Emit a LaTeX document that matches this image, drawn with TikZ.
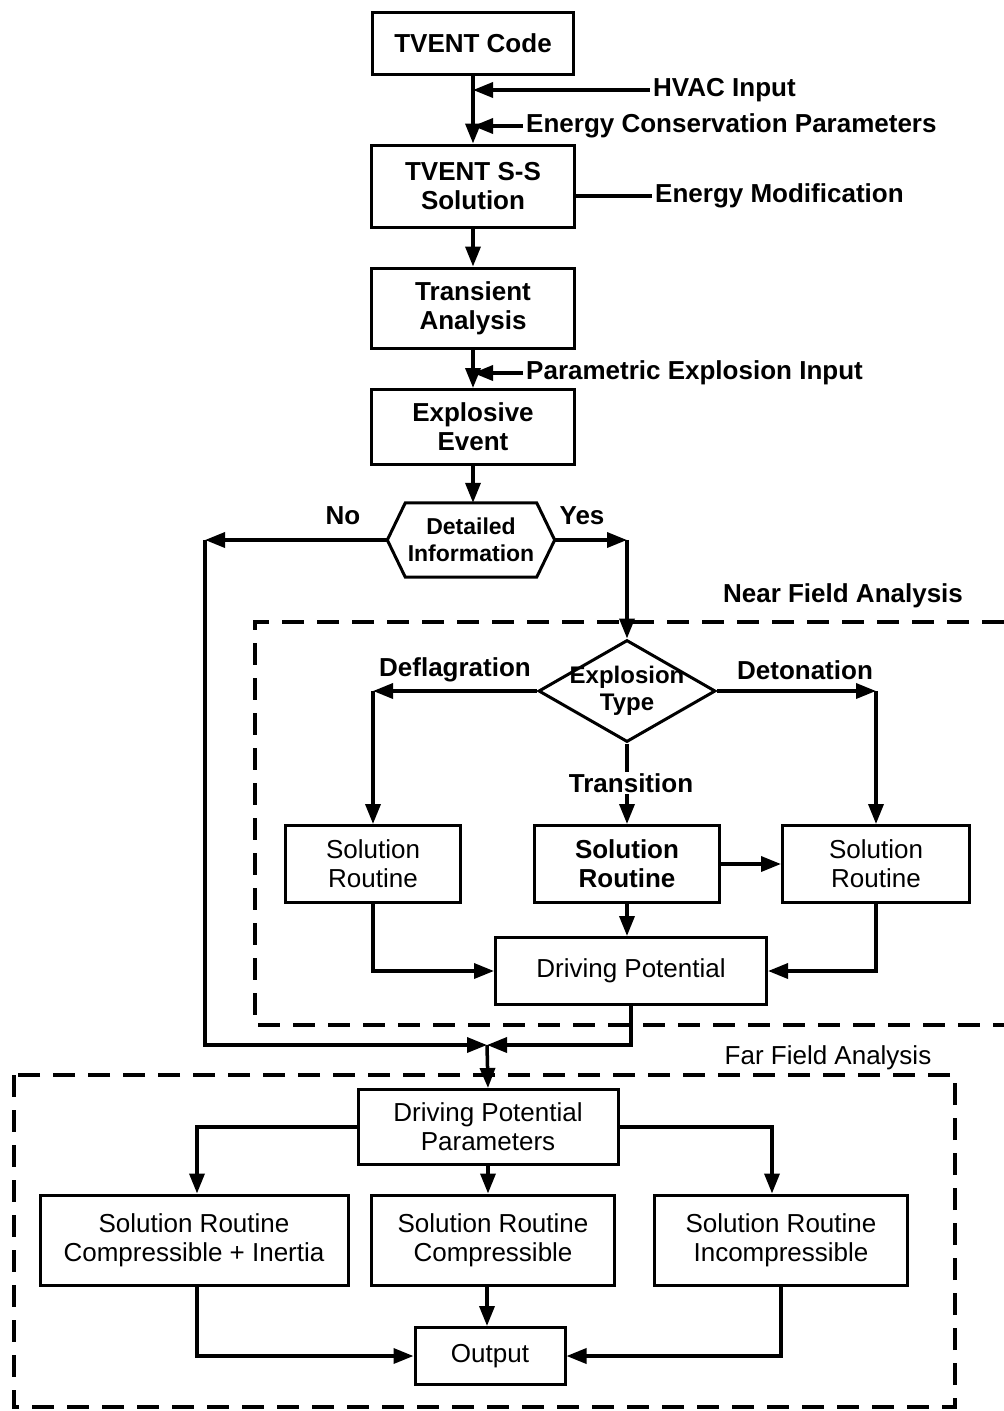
\documentclass[tikz,border=0pt]{standalone}
\usepackage{fontspec}
\setmainfont{Liberation Sans}
\usetikzlibrary{arrows.meta,shapes.geometric,calc}
\begin{document}
\begin{tikzpicture}[x=1pt,y=-1pt,
 box/.style={draw,line width=3pt,align=center,inner sep=0pt},
 bb/.style={font=\fontsize{26}{29}\selectfont\bfseries},
 rr/.style={font=\fontsize{26}{29}\selectfont},
 lbl/.style={inner sep=3pt,anchor=west},
 flow/.style={line width=3.5pt,-{Triangle[length=20pt,width=15pt]}},
 plain/.style={line width=3.5pt},
 zone/.style={line width=3.5pt,dash pattern=on 22pt off 13pt}]
\useasboundingbox (0,0) rectangle (1004,1411);
% upper chain
\node (tc) [box,bb,minimum width=201,minimum height=62] at (473,43) {TVENT Code};
\node (ss) [box,bb,minimum width=203,minimum height=82] at (473,186) {TVENT S-S\\Solution};
\node (ta) [box,bb,minimum width=203,minimum height=80] at (473,308) {Transient\\Analysis};
\node (ee) [box,bb,minimum width=203,minimum height=75] at (473,427) {Explosive\\Event};
\node (di) [font=\fontsize{23}{27}\selectfont\bfseries,align=center,inner sep=0pt,minimum width=167,minimum height=74] at (471,540) {Detailed\\Information};
\draw[line width=3pt] (di.west) -- ([xshift=18pt]di.north west) -- ([xshift=-18pt]di.north east) -- (di.east) -- ([xshift=-18pt]di.south east) -- ([xshift=18pt]di.south west) -- cycle;
% side inputs
\node (hv) [bb,lbl] at (650,90) {HVAC Input};
\node (ec) [bb,lbl] at (523,126) {Energy Conservation Parameters};
\node (em) [bb,lbl] at (652,196) {Energy Modification};
\node (pe) [bb,lbl] at (523,373) {Parametric Explosion Input};
\draw[flow] (tc.south) -- (ss.north);
\draw[flow] (hv.west) -- (hv.west -| tc.south);
\draw[flow] (ec.west) -- (ec.west -| tc.south);
\draw[plain] (ss.east |- em.west) -- (em.west);
\draw[flow] (ss.south) -- (ta.north);
\draw[flow] (ta.south) -- (ee.north);
\draw[flow] (pe.west) -- (pe.west -| ta.south);
\draw[flow] (ee.south) -- (ee.south |- di.north);
% near field
\node (et) [draw,diamond,line width=3pt,inner sep=0pt,minimum width=177,minimum height=102] at (627,691) {};
\node (etl) [font=\fontsize{24}{27}\selectfont\bfseries,align=center] at (et) {Explosion\\Type};
\node (sl) [box,rr,minimum width=175,minimum height=77] at (373,864) {Solution\\Routine};
\node (sm) [box,bb,minimum width=185,minimum height=77] at (627,864) {Solution\\Routine};
\node (sr) [box,rr,minimum width=187,minimum height=77] at (876,864) {Solution\\Routine};
\node (dp) [box,rr,minimum width=271,minimum height=67] at (631,971) {Driving Potential};
\coordinate (yc) at (et.north |- di.east);
\coordinate (nc) at (205,540);
\coordinate (mg) at (487,1045);
\coordinate (dc) at (et.west -| sl.north);
\coordinate (tcn) at (et.east -| sr.north);
\draw[flow] (di.east) -- (yc);
\draw[flow] (yc) -- (et.north);
\draw[flow] (di.west) -- (nc);
\draw[flow] (nc) |- (mg);
\node (yes) [bb] at (582,516) {Yes};
\node (no) [bb] at (343,516) {No};
\draw[flow] (et.west) -- (dc);
\draw[flow] (dc) -- (sl.north);
\draw[flow] (et.east) -- (tcn);
\draw[flow] (tcn) -- (sr.north);
\node (dfl) [bb] at (455,670) {Deflagration};
\node (dtl) [bb] at (805,670) {Detonation};
\draw[flow] (et.south) -- (sm.north);
\node (trl) [bb,fill=white,inner sep=1pt] at (631,783) {Transition};
\draw[flow] (sm.east) -- (sr.west);
\draw[flow] (sm.south) -- (sm.south |- dp.north);
\draw[flow] (sl.south) |- (dp.west);
\draw[flow] (sr.south) |- (dp.east);
\draw[flow] (dp.south) |- (mg);
\draw[zone] (1004,622) -- (255,622) -- (255,1025) -- (1004,1025);
\node (nfl) [bb] at (843,596) {Near Field Analysis};
% far field
\node (dpp) [box,rr,minimum width=260,minimum height=75] at (488,1127) {Driving Potential\\Parameters};
\node (fl) [box,rr,minimum width=308,minimum height=90] at (194,1240) {Solution Routine\\Compressible + Inertia};
\node (fm) [box,rr,minimum width=243,minimum height=90] at (493,1240) {Solution Routine\\Compressible};
\node (fr) [box,rr,minimum width=253,minimum height=90] at (781,1240) {Solution Routine\\Incompressible};
\node (out) [box,rr,minimum width=150,minimum height=57] at (490,1356) {Output};
\draw[flow] (mg) -- (dpp.north);
\draw[flow] (dpp.west) -| ([xshift=3pt]fl.north);
\draw[flow] (dpp.east) -| ([xshift=-9pt]fr.north);
\draw[flow] (dpp.south) -- (dpp.south |- fm.north);
\draw[flow] ([xshift=3pt]fl.south) |- (out.west);
\draw[flow] (fr.south) |- (out.east);
\draw[flow] ([xshift=-6pt]fm.south) -- ([xshift=-6pt]fm.south |- out.north);
\draw[zone] (14,1075) rectangle (955,1407);
\node (ffl) [rr] at (828,1058) {Far Field Analysis};
\end{tikzpicture}
\end{document}
